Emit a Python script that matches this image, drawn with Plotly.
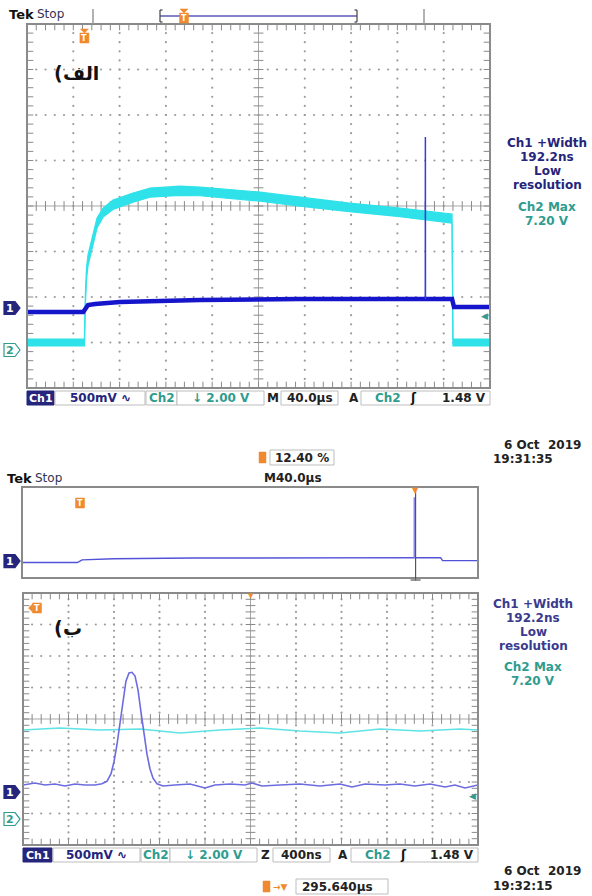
import numpy as np
import plotly.graph_objects as go

# ===================== data =====================
# Screen (الف): whole record, time in µs relative to trigger, 40 µs/div
rec_len_us = 400.0
trig_pos_pct = 12.40
trig_level = 1.48          # V (Ch2, rising edge)

ch2_top_t  = [-49.6, 0.0, 0.9, 1.8, 3.1, 6.6, 10.9, 16.1, 24.7, 42.0, 56.7, 82.6, 99.9,
              150.0, 186.0, 229.0, 272.6, 317.6, 318.4, 350.4]
ch2_top_hi = [0.48, 0.48, 2.55, 3.60, 4.18, 4.97, 5.80, 6.24, 6.59, 6.90, 7.12, 7.20, 7.16,
              6.95, 6.73, 6.46, 6.24, 5.98, 0.48, 0.48]
ch2_top_lo = [0.18, 0.18, 2.05, 3.10, 3.70, 4.50, 5.36, 5.84, 6.18, 6.50, 6.72, 6.80, 6.78,
              6.55, 6.32, 6.08, 5.86, 5.58, 0.18, 0.18]

ch1_top_t = [-49.6, -1.0, 3.1, 9.2, 30.7, 99.9, 186.0, 317.6, 319.3, 350.4]
ch1_top_v = [-0.044, -0.044, 0.033, 0.044, 0.066, 0.088, 0.099, 0.099, 0.011, 0.011]

pulse_t = [294.50, 294.57, 294.64]
pulse_v = [0.10, 1.88, 0.10]

# Screen (ب): zoom 400 ns/div centred on 295.640 µs
zoom_center_us = 295.640
zoom_div_us = 0.4

ch1_bot_t = [293.640, 293.745, 293.833, 293.921, 294.009, 294.097, 294.185, 294.273,
             294.334, 294.378, 294.414, 294.440, 294.466, 294.493, 294.519, 294.545,
             294.572, 294.598, 294.625, 294.651, 294.677, 294.704, 294.730, 294.756,
             294.783, 294.818, 294.871, 294.976, 295.108, 295.240, 295.328, 295.460,
             295.592, 295.653, 295.741, 295.899, 296.075, 296.251, 296.427, 296.532,
             296.647, 296.822, 296.954, 297.086, 297.218, 297.350, 297.438, 297.526,
             297.640]
ch1_bot_v = [0.111, 0.143, 0.111, 0.127, 0.095, 0.127, 0.111, 0.111,
             0.13, 0.17, 0.29, 0.48, 0.75, 1.11, 1.49, 1.76,
             1.89, 1.90, 1.84, 1.62, 1.27, 0.90, 0.60, 0.37,
             0.22, 0.13, 0.095, 0.111, 0.127, 0.063, 0.111, 0.127,
             0.111, 0.143, 0.095, 0.111, 0.127, 0.095, 0.127, 0.079,
             0.127, 0.111, 0.127, 0.095, 0.127, 0.079, 0.111, 0.063,
             0.111]

ch2_bot_t = [293.640, 293.965, 294.317, 294.669, 295.020, 295.372, 295.724, 296.075,
             296.427, 296.778, 297.130, 297.482, 297.640]
ch2_bot_v = [5.65, 5.78, 5.65, 5.71, 5.46, 5.65, 5.78, 5.59, 5.46, 5.71, 5.59, 5.71, 5.65]

meas_lines = ["Ch1 +Width", "192.2ns", "Low", "resolution"]
max_lines = ["Ch2 Max", "7.20 V"]
date_1, time_1 = "6 Oct  2019", "19:31:35"
date_2, time_2 = "6 Oct  2019", "19:32:15"
label_a = "الف"
label_b = "ب"

# ===================== layout helpers =====================
W, H = 592, 896
def px(x): return x / W
def py(y): return 1 - y / H

TOP = (27, 24, 490, 388)
MID = (22, 487, 478, 578)
BOT = (23, 593, 478, 845)

GRID_C = "#9c9c9c"
FRAME_C = "#8a8a8a"
NAVY = "#25257c"
NAVY2 = "#3a3a8e"
TEAL = "#2f9c8f"
CYAN = "#2fe2ea"
BLUE = "#1515cc"
LBLUE = "#6c6ce0"
ORANGE = "#f08a2e"
FONT = "DejaVu Sans"

t_min = -rec_len_us * trig_pos_pct / 100.0
t_max = t_min + rec_len_us
z_min = zoom_center_us - 5 * zoom_div_us
z_max = zoom_center_us + 5 * zoom_div_us

# channel ground positions (divisions from centre) and V/div
TOP_CH1_GND, TOP_CH2_GND = -2.242, -3.165
BOT_CH1_GND, BOT_CH2_GND = -2.317, -3.175
CH1_VDIV, CH2_VDIV = 0.5, 2.0
MID_RANGE = [-0.5, 2.18]

def vrange(gnd, vdiv):
    return [(-4 - gnd) * vdiv, (4 - gnd) * vdiv]

fig = go.Figure()
shapes, ann = [], []

def text(x, y, s, size=12, color="#222", bold=True, xanchor="left", family=FONT):
    ann.append(dict(x=px(x), y=py(y), xref="paper", yref="paper", text=s, showarrow=False,
                    xanchor=xanchor, yanchor="middle",
                    font=dict(family=family, size=size, color=color,
                              weight="bold" if bold else "normal")))

def rect(x0, y0, x1, y1, fill="white", line="#bdbdbd", lw=1):
    shapes.append(dict(type="rect", xref="paper", yref="paper", x0=px(x0), x1=px(x1),
                       y0=py(y1), y1=py(y0), fillcolor=fill,
                       line=dict(color=line, width=lw), layer="above"))

def pline(x0, y0, x1, y1, color, w=1):
    shapes.append(dict(type="line", xref="paper", yref="paper", x0=px(x0), x1=px(x1),
                       y0=py(y0), y1=py(y1), line=dict(color=color, width=w), layer="above"))

def path(pts, fill, line, lw=1):
    d = "M " + " L ".join(f"{px(a):.5f},{py(b):.5f}" for a, b in pts) + " Z"
    shapes.append(dict(type="path", xref="paper", yref="paper", path=d, fillcolor=fill,
                       line=dict(color=line, width=lw), layer="above"))

def badge(cx, cy, pointer=None):
    path([(cx - 4.5, cy - 5), (cx + 4.5, cy - 5), (cx + 4.5, cy + 5), (cx - 4.5, cy + 5)],
         ORANGE, ORANGE, 0.5)
    if pointer == "down":
        path([(cx - 4, cy - 9), (cx + 4, cy - 9), (cx, cy - 5)], ORANGE, ORANGE, 0.5)
    elif pointer == "left":
        path([(cx - 4.5, cy - 4), (cx - 8.5, cy), (cx - 4.5, cy + 4)], ORANGE, ORANGE, 0.5)
    text(cx, cy + 0.5, "T", size=8, color="white", xanchor="center")

def ch_marker(y, label, filled, color):
    path([(4, y - 6.5), (15, y - 6.5), (20, y), (15, y + 6.5), (4, y + 6.5)],
         color if filled else "white", color, 1.2)
    text(10, y + 0.5, label, size=11, color="white" if filled else color, xanchor="center")

def panel_label(x, y, word):
    # Persian label "word)" shown right-to-left: the bracket appears on the left
    text(x, y, "(", size=19, color="#111")
    text(x + 8.5, y, word, size=19, color="#111")

def panel_y(panel, div):
    x0, y0, x1, y1 = panel
    c = (y0 + y1) / 2
    return c - div * (y1 - y0) / 8

# ===================== graticules =====================
steps = [k * 0.2 for k in range(1, 50)]
vsteps = [k * 0.2 for k in range(-19, 20)]

def graticule(xa, ya):
    xs, ys = [], []
    for i in range(1, 10):
        if i == 5:
            continue
        xs += [i] * len(vsteps); ys += vsteps
    for j in range(-3, 4):
        if j == 0:
            continue
        xs += steps; ys += [j] * len(steps)
    common = dict(xaxis=xa, yaxis=ya, hoverinfo="skip", showlegend=False)
    fig.add_trace(go.Scatter(x=xs, y=ys, mode="markers",
                             marker=dict(size=2.2, color=GRID_C, line=dict(width=0)), **common))
    fig.add_trace(go.Scatter(x=[0, 10], y=[0, 0], mode="lines",
                             line=dict(color="#a8a8a8", width=1), **common))
    fig.add_trace(go.Scatter(x=[5, 5], y=[-4, 4], mode="lines",
                             line=dict(color="#a8a8a8", width=1), **common))
    fig.add_trace(go.Scatter(x=steps * 2, y=[-4] * len(steps) + [4] * len(steps), mode="markers",
                             marker=dict(symbol="line-ns", size=9, line=dict(width=1, color=FRAME_C)),
                             **common))
    fig.add_trace(go.Scatter(x=[0] * len(vsteps) + [10] * len(vsteps), y=vsteps * 2, mode="markers",
                             marker=dict(symbol="line-ew", size=9, line=dict(width=1, color=FRAME_C)),
                             **common))
    fig.add_trace(go.Scatter(x=steps, y=[0] * len(steps), mode="markers",
                             marker=dict(symbol="line-ns", size=7, line=dict(width=1, color=FRAME_C)),
                             **common))
    fig.add_trace(go.Scatter(x=[5] * len(vsteps), y=vsteps, mode="markers",
                             marker=dict(symbol="line-ew", size=7, line=dict(width=1, color=FRAME_C)),
                             **common))

graticule("x", "y")
graticule("x4", "y5")

# ===================== traces: screen (الف) =====================
fig.add_trace(go.Scatter(x=ch2_top_t, y=ch2_top_lo, mode="lines", xaxis="x2", yaxis="y2",
                         line=dict(color=CYAN, width=1.2), hoverinfo="skip", showlegend=False))
fig.add_trace(go.Scatter(x=ch2_top_t, y=ch2_top_hi, mode="lines", xaxis="x2", yaxis="y2",
                         fill="tonexty", fillcolor=CYAN,
                         line=dict(color=CYAN, width=1.2), hoverinfo="skip", showlegend=False))
fig.add_trace(go.Scatter(x=ch1_top_t, y=ch1_top_v, mode="lines", xaxis="x2", yaxis="y3",
                         line=dict(color=BLUE, width=4.5), hoverinfo="skip", showlegend=False))
fig.add_trace(go.Scatter(x=pulse_t, y=pulse_v, mode="lines", xaxis="x2", yaxis="y3",
                         line=dict(color="#3b3bd6", width=1.5), hoverinfo="skip", showlegend=False))

# ===================== traces: overview =====================
fig.add_trace(go.Scatter(x=ch1_top_t, y=ch1_top_v, mode="lines", xaxis="x3", yaxis="y4",
                         line=dict(color="#5252d8", width=1.4), hoverinfo="skip", showlegend=False))
fig.add_trace(go.Scatter(x=pulse_t, y=pulse_v, mode="lines", xaxis="x3", yaxis="y4",
                         line=dict(color="#8a8ae6", width=1.6), hoverinfo="skip", showlegend=False))

# ===================== traces: screen (ب) =====================
fig.add_trace(go.Scatter(x=ch2_bot_t, y=ch2_bot_v, mode="lines", xaxis="x5", yaxis="y6",
                         line=dict(color="#5fe3e6", width=1.5), hoverinfo="skip", showlegend=False))
fig.add_trace(go.Scatter(x=ch1_bot_t, y=ch1_bot_v, mode="lines", xaxis="x5", yaxis="y7",
                         line=dict(color=LBLUE, width=1.6), hoverinfo="skip", showlegend=False))

# ===================== frames =====================
for (x0, y0, x1, y1) in (TOP, MID, BOT):
    rect(x0, y0, x1, y1, fill="rgba(0,0,0,0)", line=FRAME_C, lw=2)

# ===================== screen (الف) decorations =====================
text(7, 14, "Tek", size=13, color="#111")
text(35, 14, "Stop", size=12, color="#333355", bold=False)
pline(93, 9, 93, 24, "#999999", 1.5)
pline(424, 9, 424, 24, "#999999", 1.5)
pline(160, 16, 357, 16, "#5a5ab4", 1.5)
pline(160, 10, 160, 22, "#444444", 1.2)
pline(160, 10, 162.5, 10, "#444444", 1.2)
pline(160, 22, 162.5, 22, "#444444", 1.2)
pline(357, 10, 357, 22, "#444444", 1.2)
pline(354.5, 10, 357, 10, "#444444", 1.2)
pline(354.5, 22, 357, 22, "#444444", 1.2)
badge(184, 18, "down")

trig_px_top = TOP[0] + (0 - t_min) / rec_len_us * (TOP[2] - TOP[0])
badge(trig_px_top, 38, "down")
panel_label(52, 73, label_a)

ch_marker(panel_y(TOP, TOP_CH1_GND), "1", True, NAVY)
ch_marker(panel_y(TOP, TOP_CH2_GND), "2", False, TEAL)
ann.append(dict(x=t_max, y=trig_level, xref="x2", yref="y2", text="◀", showarrow=False,
                xanchor="right", yanchor="middle", font=dict(family=FONT, size=9, color=TEAL)))

for i, s in enumerate(meas_lines):
    text(547, 143 + i * 14, s, size=12, color=NAVY, xanchor="center")
for i, s in enumerate(max_lines):
    text(547, 207 + i * 13.5, s, size=12, color=TEAL, xanchor="center")

def status_bar(panel, yc, mode_letter, mode_val, xs):
    b0, b1 = yc - 7, yc + 7
    (c1a, c1b, mva, mvb, c2a, c2b, vda, vdb, mlx, tba, tbb, alx, tra) = xs
    trb = panel[2]
    rect(c1a, b0, c1b, b1, fill=NAVY, line=NAVY)
    text((c1a + c1b) / 2, yc, "Ch1", size=11, color="white", xanchor="center")
    rect(mva, b0, mvb, b1)
    text((mva + mvb) / 2, yc, "500mV ∿", size=12, color=NAVY, xanchor="center")
    rect(c2a, b0, c2b, b1)
    text((c2a + c2b) / 2, yc, "Ch2", size=12, color=TEAL, xanchor="center")
    rect(vda, b0, vdb, b1)
    text((vda + vdb) / 2, yc, "↓ 2.00 V", size=12, color=TEAL, xanchor="center")
    text(mlx, yc, mode_letter, size=12, color="#222", xanchor="center")
    rect(tba, b0, tbb, b1)
    text((tba + tbb) / 2, yc, mode_val, size=12, color="#222", xanchor="center")
    text(alx, yc, "A", size=12, color="#222", xanchor="center")
    rect(tra, b0, trb, b1)
    text(tra + 12, yc, "Ch2", size=12, color=TEAL)
    text(tra + 52, yc, "ʃ", size=12, color="#111", xanchor="center")
    text(trb - 2, yc, "1.48 V", size=12, color="#222", xanchor="right")

status_bar(TOP, 398, "M", "40.0µs",
           (27, 54, 55, 145, 146, 177, 177, 264, 273, 281, 338, 354, 361))

# ===================== overview decorations =====================
text(583, 445, date_1, size=12, color="#222", xanchor="right")
text(491, 459, time_1, size=12, color="#222")
path([(259, 452), (266, 452), (266, 463), (259, 463)], ORANGE, ORANGE, 0.5)
rect(270, 450, 334, 465)
text(302, 457.5, "12.40 %", size=12, color="#222", xanchor="center")
text(5, 478, "Tek", size=13, color="#111")
text(33, 478, "Stop", size=12, color="#333355", bold=False)
text(262, 478, "M40.0µs", size=12, color="#222")
badge(80, 503)
mid_gnd_y = MID[3] - (0 - MID_RANGE[0]) / (MID_RANGE[1] - MID_RANGE[0]) * (MID[3] - MID[1])
ch_marker(mid_gnd_y, "1", True, NAVY)
shapes.append(dict(type="line", xref="x3", yref="paper", x0=zoom_center_us, x1=zoom_center_us,
                   y0=py(581), y1=py(489), line=dict(color="#555555", width=1.2), layer="above"))
shapes.append(dict(type="line", xref="x3", yref="paper", xsizemode="pixel", xanchor=zoom_center_us,
                   x0=-5, x1=5, y0=py(580), y1=py(580), line=dict(color="#777777", width=1.5),
                   layer="above"))
ann.append(dict(x=zoom_center_us, y=py(490), xref="x3", yref="paper", text="▼", showarrow=False,
                xanchor="center", yanchor="middle", font=dict(family=FONT, size=8, color=ORANGE)))

# ===================== screen (ب) decorations =====================
badge(37, 608, "left")
ann.append(dict(x=5, y=py(596), xref="x4", yref="paper", text="▼", showarrow=False,
                xanchor="center", yanchor="middle", font=dict(family=FONT, size=7, color=ORANGE)))
panel_label(52, 628, label_b)
ch_marker(panel_y(BOT, BOT_CH1_GND), "1", True, NAVY)
ch_marker(panel_y(BOT, BOT_CH2_GND), "2", False, TEAL)
ann.append(dict(x=z_max, y=trig_level, xref="x5", yref="y6", text="◀", showarrow=False,
                xanchor="right", yanchor="middle", font=dict(family=FONT, size=9, color=TEAL)))
for i, s in enumerate(meas_lines):
    text(533, 604 + i * 14, s, size=12, color=NAVY2, xanchor="center")
for i, s in enumerate(max_lines):
    text(533, 667 + i * 13.5, s, size=12, color=TEAL, xanchor="center")

status_bar(BOT, 855, "Z", "400ns",
           (23, 52, 53, 140, 141, 170, 170, 257, 265, 273, 330, 343, 351))

path([(263, 881), (270, 881), (270, 892), (263, 892)], ORANGE, ORANGE, 0.5)
text(271, 886.5, "→▼", size=9, color=ORANGE)
rect(296, 879, 388, 894)
text(300, 886.5, "295.640µs", size=12, color="#222")
text(583, 871, date_2, size=12, color="#222", xanchor="right")
text(491, 886, time_2, size=12, color="#222")

# ===================== axes =====================
def ax(**kw):
    d = dict(visible=False, fixedrange=True)
    d.update(kw)
    return d

fig.update_layout(
    width=W, height=H, margin=dict(l=0, r=0, t=0, b=0),
    paper_bgcolor="white", plot_bgcolor="white", showlegend=False, hovermode=False,
    xaxis=ax(domain=[px(TOP[0]), px(TOP[2])], range=[0, 10], anchor="y"),
    yaxis=ax(domain=[py(TOP[3]), py(TOP[1])], range=[-4, 4], anchor="x"),
    xaxis2=ax(overlaying="x", range=[t_min, t_max], anchor="y"),
    yaxis2=ax(overlaying="y", range=vrange(TOP_CH2_GND, CH2_VDIV), anchor="x"),
    yaxis3=ax(overlaying="y", range=vrange(TOP_CH1_GND, CH1_VDIV), anchor="x"),
    xaxis3=ax(domain=[px(MID[0]), px(MID[2])], range=[t_min, t_max], anchor="y4"),
    yaxis4=ax(domain=[py(MID[3]), py(MID[1])], range=MID_RANGE, anchor="x3"),
    xaxis4=ax(domain=[px(BOT[0]), px(BOT[2])], range=[0, 10], anchor="y5"),
    yaxis5=ax(domain=[py(BOT[3]), py(BOT[1])], range=[-4, 4], anchor="x4"),
    xaxis5=ax(overlaying="x4", range=[z_min, z_max], anchor="y5"),
    yaxis6=ax(overlaying="y5", range=vrange(BOT_CH2_GND, CH2_VDIV), anchor="x4"),
    yaxis7=ax(overlaying="y5", range=vrange(BOT_CH1_GND, CH1_VDIV), anchor="x4"),
    shapes=shapes, annotations=ann,
)

fig.write_html("out.html", config={"displayModeBar": False},
               post_script="document.body.style.margin='0';document.body.style.overflow='hidden';")
